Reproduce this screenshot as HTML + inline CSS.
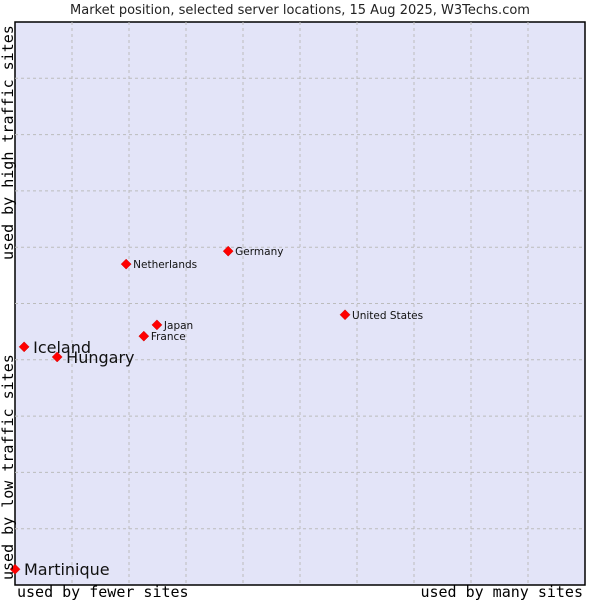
<!DOCTYPE html>
<html><head><meta charset="utf-8"><style>
body{margin:0;background:#fff;width:600px;height:600px;overflow:hidden}
svg{display:block;font-family:"DejaVu Sans","Liberation Sans",sans-serif}
</style></head><body>
<svg id="chart" width="600" height="600">
<text x="300" y="14" text-anchor="middle" font-size="13" fill="#222">Market position, selected server locations, 15 Aug 2025, W3Techs.com</text>
<rect x="15" y="22" width="570" height="563" fill="#e3e4f8" stroke="#000" stroke-width="1.5"/>
<g id="grid"></g>
<g id="points"></g>
<text x="17" y="597" font-family="'DejaVu Sans Mono','Liberation Mono',monospace" font-size="15" fill="#000">used by fewer sites</text>
<text x="583" y="597" text-anchor="end" font-family="'DejaVu Sans Mono','Liberation Mono',monospace" font-size="15" fill="#000">used by many sites</text>
<text transform="translate(13,580) rotate(-90)" font-family="'DejaVu Sans Mono','Liberation Mono',monospace" font-size="15" fill="#000">used by low traffic sites</text>
<text transform="translate(13,260) rotate(-90)" font-family="'DejaVu Sans Mono','Liberation Mono',monospace" font-size="15" fill="#000">used by high traffic sites</text>
</svg>
<script>
const names=["Martinique","Iceland","Hungary","Netherlands","Germany","Japan","France","United States"];
const xVals=[0,1.6,7.4,19.5,37.4,24.9,22.6,57.9];
const yVals=[2.8,42.3,40.5,57.0,59.3,46.2,44.2,48.0];
const bigLabel=[true,true,true,false,false,false,false,false];
const L=15,T=22,W=570,H=563;
const sx=v=>L+v/100*W, sy=v=>T+H-v/100*H;
const NS="http://www.w3.org/2000/svg";
const grid=document.getElementById('grid'), pts=document.getElementById('points');
for(let i=1;i<10;i++){
 const v=document.createElementNS(NS,'line');
 v.setAttribute('x1',sx(i*10));v.setAttribute('x2',sx(i*10));v.setAttribute('y1',T);v.setAttribute('y2',T+H);
 v.setAttribute('stroke','#bcbcbc');v.setAttribute('stroke-dasharray','3,3');
 
 
 grid.appendChild(v);
 const h=document.createElementNS(NS,'line');
 h.setAttribute('y1',sy(i*10));h.setAttribute('y2',sy(i*10));h.setAttribute('x1',L);h.setAttribute('x2',L+W);
 h.setAttribute('stroke','#bcbcbc');h.setAttribute('stroke-dasharray','3,3');
 
 
 grid.appendChild(h);
}
names.forEach((n,i)=>{
 const x=sx(xVals[i]),y=sy(yVals[i]);
 const g=document.createElementNS(NS,'g');
 
 
 const d=document.createElementNS(NS,'path');
 d.setAttribute('d',`M${x-5},${y}L${x},${y-5}L${x+5},${y}L${x},${y+5}Z`);
 d.setAttribute('fill','#f00');d.setAttribute('stroke','#c00');d.setAttribute('stroke-width','0.5');
 
 
 g.appendChild(d);
 const t=document.createElementNS(NS,'text');
 t.setAttribute('x',x+(bigLabel[i]?9:7));t.setAttribute('y',y+(bigLabel[i]?6:4));
 t.setAttribute('font-size',bigLabel[i]?'16':'10.5');t.setAttribute('fill','#111');
 t.textContent=n;
 
 
 g.appendChild(t);
 pts.appendChild(g);
});
</script>
</body></html>
